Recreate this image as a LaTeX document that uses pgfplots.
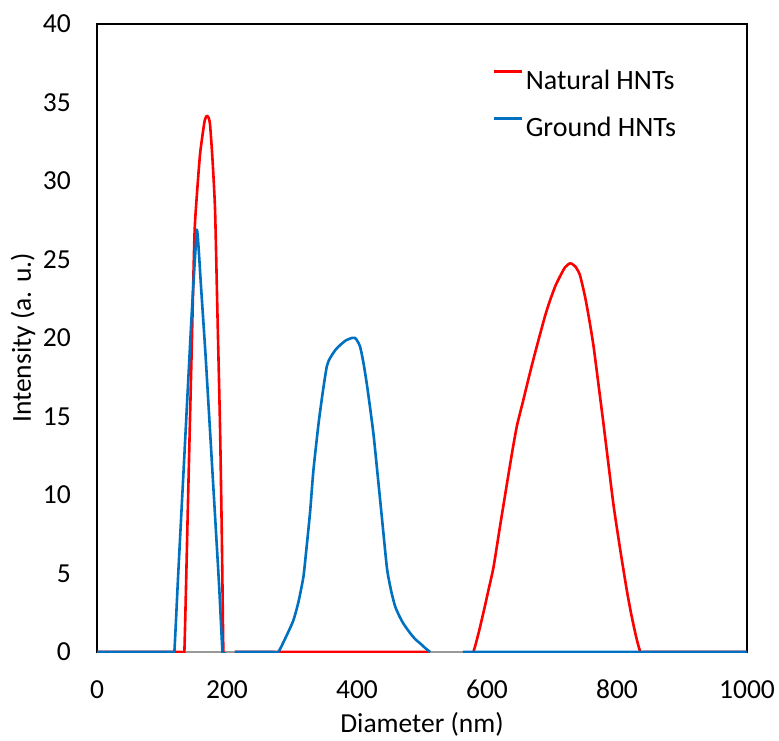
\documentclass[border=0pt]{standalone}
\usepackage{pgfplots}
\pgfplotsset{compat=1.18}
\usepackage{fontspec}
\setmainfont{Carlito}
\definecolor{xlred}{RGB}{255,0,0}
\definecolor{xlblue}{RGB}{0,112,192}
\begin{document}
\begin{tikzpicture}
\useasboundingbox (0,0) rectangle (779pt,740pt);
\begin{axis}[
  at={(97pt,88pt)}, anchor=south west,
  scale only axis, width=650pt, height=628pt,
  xmin=0, xmax=1000, ymin=0, ymax=40,
  xtick={0,200,...,1000}, ytick={0,5,...,40},
  major tick length=0pt,
  axis line style={black, line width=2pt},
  /pgf/number format/assume math mode=true,
  /pgf/number format/1000 sep={},
  tick label style={font=\fontsize{27.5}{32}\selectfont},
  xticklabel style={inner sep=0pt, yshift=-28pt},
  yticklabel style={inner sep=0pt, xshift=-26pt},
  xlabel={Diameter (nm)}, ylabel={Intensity (a. u.)},
  label style={font=\fontsize{27.5}{32}\selectfont},
  xlabel style={at={([yshift=-72pt]axis description cs:0.5,0)}, anchor=center},
  ylabel style={at={([xshift=-74pt]axis description cs:0,0.5)}, anchor=center},
  unbounded coords=jump,
  legend style={draw=none, fill=none, at={(axis description cs:0.6077,0.9275)}, anchor=north west,
    inner sep=0pt, font=\fontsize{28}{32}\selectfont, row sep=26pt, column sep=3pt,
    nodes={inner sep=0pt}},
  legend cell align=left,
  legend image code/.code={\draw[#1] (0pt,8.5pt) -- (28pt,8.5pt);},
]
\draw[gray!80, line width=2pt] (axis cs:0,0) -- (axis cs:1000,0);
\addplot[xlred, line width=2.6pt, line join=round, smooth, tension=0.35] coordinates {
(0,0) (60,0) (120,0) (131,0) (134.4,0) (140,9.6) (145,18.1) (150,26.6) (154,29.3) (158.5,31.7) (163.6,33.3)
(166,33.9) (168.8,34.15) (171.5,34.05) (173.9,33.6) (177.5,31.5) (181.6,28.2) (185,22.1)
(189.3,14.3) (192,7.5) (194.4,0) (196,0)
(200,nan)
(212,0) (512,0)
(540,nan)
(574,0) (579,0) (587,1.2) (595,2.6) (602,3.9) (610,5.4) (620,8.0) (630.6,10.7) (639,12.8) (646,14.4) (655,15.9) (665,17.6) (673,18.9) (682,20.3)
(690,21.5) (697,22.4) (705,23.3) (712,23.9) (720,24.5) (728,24.76) (736,24.55) (743,24.0) (751,22.6) (758,21.0)
(764,19.45) (771,17.2) (779,14.6) (787,11.9) (795,9.25) (805,6.5) (815,3.95) (821,2.6) (826,1.6) (831,0.7) (836,0) (841,0) (900,0) (1000,0)
};
\addlegendentry{Natural HNTs}
\addplot[xlblue, line width=2.6pt, line join=round, smooth, tension=0.35] coordinates {
(0,0) (60,0) (110,0) (116,0) (119,0) (125,5) (135,13) (145,21) (150,24.6) (152.5,26.3) (153.6,26.9) (155,26.5)
(157,25.3) (160,23.3) (167,18.9) (177,11.9) (187.5,4.5) (193,0) (195,0)
(200,nan)
(212,0) (250,0) (272,0) (279,0) (290,0.9) (302,2.0) (310,3.2) (317.6,4.8) (322,6.5) (327.8,8.9) (333,11.6)
(340.7,14.5) (345.8,16.1) (350,17.3) (353.6,18.2) (357,18.6) (361.2,18.9) (367,19.25)
(374,19.55) (383,19.85) (392,20.0) (397,20.0) (400,19.85) (404.8,19.45) (410,18.4)
(415,17.1) (420,15.6) (425.3,13.9) (430.5,11.8) (438.2,8.6) (445.9,5.4) (450,4.4) (453.6,3.7)
(458.7,2.9) (465,2.3) (471.5,1.8) (481.8,1.2) (490,0.8) (497.2,0.55) (505,0.25) (512.5,0)
(540,nan)
(563,0) (700,0) (850,0) (1000,0)
};
\addlegendentry{Ground HNTs}
\end{axis}
\end{tikzpicture}
\end{document}
